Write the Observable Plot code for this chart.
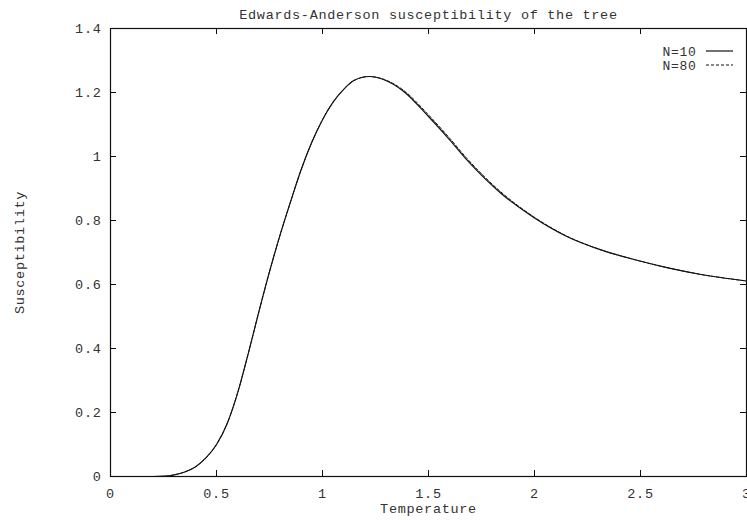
<!DOCTYPE html>
<html>
<head>
<meta charset="utf-8">
<script src="https://cdn.jsdelivr.net/npm/d3@7"></script>
<script src="https://cdn.jsdelivr.net/npm/@observablehq/plot@0.6"></script>
<style>
  html, body { margin: 0; padding: 0; background: #fff; }
  #chart { position: relative; width: 747px; height: 520px; }
</style>
</head>
<body>
<div id="chart"></div>
<script>
const title = "Edwards-Anderson susceptibility of the tree";
const xLabel = "Temperature";
const yLabel = "Susceptibility";
const seriesNames = ["N=10", "N=80"];

const xTicks = [0, 0.5, 1, 1.5, 2, 2.5, 3];
const yTicks = [0, 0.2, 0.4, 0.6, 0.8, 1, 1.2, 1.4];

const temps10 = [0, 0.2, 0.26, 0.3, 0.35, 0.4, 0.45, 0.5, 0.55, 0.6, 0.65, 0.7, 0.75, 0.8, 0.85, 0.9, 0.95, 1.0, 1.05, 1.1, 1.15, 1.22, 1.29, 1.38, 1.5, 1.6, 1.68, 1.84, 2.0, 2.15, 2.31, 2.47, 2.63, 2.78, 3.0];
const chi10   = [0, 0, 0.001, 0.005, 0.014, 0.03, 0.058, 0.1, 0.165, 0.262, 0.385, 0.515, 0.64, 0.755, 0.86, 0.96, 1.045, 1.115, 1.17, 1.21, 1.238, 1.25, 1.24, 1.205, 1.125, 1.052, 0.99, 0.886, 0.808, 0.751, 0.709, 0.678, 0.652, 0.632, 0.611];

const temps80 = [0, 0.2, 0.26, 0.3, 0.35, 0.4, 0.45, 0.5, 0.55, 0.6, 0.65, 0.7, 0.75, 0.8, 0.85, 0.9, 0.95, 1.0, 1.05, 1.1, 1.15, 1.22, 1.29, 1.38, 1.5, 1.6, 1.68, 1.84, 2.0, 2.15, 2.31, 2.47, 2.63, 2.78, 3.0];
const chi80   = [0, 0, 0.001, 0.005, 0.014, 0.03, 0.058, 0.1, 0.165, 0.262, 0.385, 0.515, 0.64, 0.755, 0.86, 0.96, 1.045, 1.115, 1.17, 1.21, 1.238, 1.25, 1.241, 1.208, 1.13, 1.057, 0.995, 0.89, 0.81, 0.752, 0.709, 0.678, 0.652, 0.632, 0.611];

const data10 = temps10.map((t, i) => ({T: t, chi: chi10[i]}));
const data80 = temps80.map((t, i) => ({T: t, chi: chi80[i]}));

const W = 747, H = 520;
const mL = 110, mR = 1, mT = 28, mB = 44;
const innerH = H - mT - mB, innerW = W - mL - mR;
const tickLen = 6;
const font = "'Liberation Mono', 'DejaVu Sans Mono', monospace";
const ink = "#333";

const plot = Plot.plot({
  width: W,
  height: H,
  marginLeft: mL,
  marginRight: mR,
  marginTop: mT,
  marginBottom: mB,
  style: {fontFamily: font, fontSize: "13.5px", letterSpacing: "0.7px", color: "#111", background: "#fff"},
  x: {domain: [0, 3]},
  y: {domain: [0, 1.4]},
  marks: [
    Plot.frame({stroke: "#111", strokeWidth: 1.2}),
    // inward ticks on all four sides (gnuplot mirror style)
    Plot.tickX(xTicks, {x: d => d, insetTop: innerH - tickLen, stroke: "#111"}),
    Plot.tickX(xTicks, {x: d => d, insetBottom: innerH - tickLen, stroke: "#111"}),
    Plot.tickY(yTicks, {y: d => d, insetRight: innerW - tickLen, stroke: "#111"}),
    Plot.tickY(yTicks, {y: d => d, insetLeft: innerW - tickLen, stroke: "#111"}),
    Plot.axisX({ticks: xTicks, tickSize: 0, tickPadding: 12, tickFormat: d => String(d), label: null, fill: ink}),
    Plot.axisY({ticks: yTicks, tickSize: 0, tickPadding: 9, tickFormat: d => String(d), label: null, fill: ink}),
    Plot.line(data10, {x: "T", y: "chi", curve: "monotone-x", stroke: "#111", strokeWidth: 1.2}),
    Plot.line(data80, {x: "T", y: "chi", curve: "monotone-x", stroke: "#111", strokeWidth: 1, strokeDasharray: "3,2"}),
    Plot.text([title], {frameAnchor: "top", textAnchor: "middle", lineAnchor: "middle", dy: -13.5, fill: ink}),
    Plot.text([xLabel], {frameAnchor: "bottom", textAnchor: "middle", lineAnchor: "middle", dy: 32.5, fill: ink}),
    Plot.text([yLabel], {frameAnchor: "left", textAnchor: "middle", lineAnchor: "middle", dx: -91, rotate: -90, fill: ink}),
    Plot.text([seriesNames[0]], {frameAnchor: "top-right", textAnchor: "end", lineAnchor: "middle", dx: -50, dy: 23, fill: ink, fontSize: 13}),
    Plot.text([seriesNames[1]], {frameAnchor: "top-right", textAnchor: "end", lineAnchor: "middle", dx: -50, dy: 37, fill: ink, fontSize: 13})
  ]
});

document.getElementById("chart").appendChild(plot);

// legend line samples
const svg = d3.select(plot);
const lg = svg.append("g").attr("stroke", "#111");
lg.append("line").attr("x1", 706).attr("x2", 733).attr("y1", 51).attr("y2", 51).attr("stroke-width", 1.2);
lg.append("line").attr("x1", 706).attr("x2", 733).attr("y1", 65).attr("y2", 65).attr("stroke-width", 1).attr("stroke-dasharray", "3,2");
</script>
</body>
</html>
